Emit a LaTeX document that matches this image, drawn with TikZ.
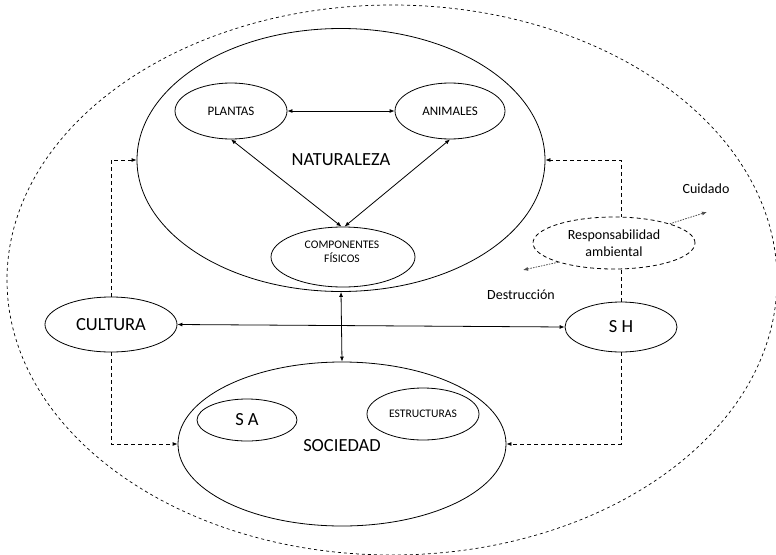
\documentclass[tikz,border=0pt]{standalone}
\usepackage{fontspec}
\setmainfont{Carlito}
\usetikzlibrary{shapes.geometric,arrows.meta}
\tikzset{
  ell/.style={ellipse, draw, line width=0.8pt, inner sep=0pt, fill=white},
  conn/.style={line width=0.8pt, {Latex[length=5pt,width=4pt]}-{Latex[length=5pt,width=4pt]}},
  dconn/.style={line width=0.8pt, dash pattern=on 4pt off 3pt, -{Latex[length=5pt,width=4pt]}},
  dotconn/.style={line width=0.8pt, dash pattern=on 1.5pt off 1.2pt, -{Latex[length=5pt,width=4pt]}, black!70},
  big/.style={font=\fontsize{18.5}{21}\selectfont},
  mid/.style={font=\fontsize{14}{17}\selectfont},
  small/.style={font=\fontsize{13}{15}\selectfont, align=center},
  tiny/.style={font=\fontsize{11.6}{14}\selectfont, align=center},
}
\begin{document}
\begin{tikzpicture}[x=1pt,y=-1pt]
\useasboundingbox (0,0) rectangle (776,554);
\node[ellipse, draw, line width=0.7pt, dash pattern=on 3pt off 3pt, minimum width=770pt, minimum height=550pt, inner sep=0pt] (outer) at (392,280) {};
\node[ell, minimum width=408pt, minimum height=263pt] (nat) at (341,160) {};
\node[big] (natlabel) at (341,160) {NATURALEZA};
\node[ell, small, minimum width=112pt, minimum height=56pt] (pl) at (231,111) {PLANTAS};
\node[ell, small, minimum width=110pt, minimum height=56pt] (an) at (450,111) {ANIMALES};
\node[ell, minimum width=144pt, minimum height=60pt] (comp) at (343,257) {};
\node[tiny] (complabel) at (342,252) {COMPONENTES\\FÍSICOS};
\node[ell, minimum width=328pt, minimum height=164pt] (soc) at (342,444) {};
\node[big] (soclabel) at (342,446) {SOCIEDAD};
\node[ell, big, minimum width=100pt, minimum height=42pt] (sa) at (247,420) {S A};
\node[ell, tiny, minimum width=112pt, minimum height=52pt] (est) at (423,414) {ESTRUCTURAS};
\node[ell, big, minimum width=132pt, minimum height=55pt] (cult) at (111,324.5) {CULTURA};
\node[ell, big, minimum width=112pt, minimum height=50pt] (sh) at (621,327) {S H};

\draw[conn] (pl.east) -- (an.west);
\draw[conn] (pl.south) -- ([xshift=-1.5pt]comp.north);
\draw[conn] (an.south) -- ([xshift=1.5pt]comp.north);
\draw[conn] (nat.south) -- (soc.north);
\draw[conn] (cult.east) -- (sh.west);

\draw[dconn] (cult.north) |- (nat.west);
\draw[dconn] (cult.south) |- (soc.west);
\draw[dconn] (sh.north) |- (nat.east);
\draw[dconn] (sh.south) |- (soc.east);

\node[ellipse, draw, fill=white, line width=0.8pt, dash pattern=on 4pt off 3pt, inner sep=0pt, minimum width=162pt, minimum height=52pt, mid, align=center] (resp) at (614,243) {Responsabilidad\\ambiental};
\coordinate (cuidtip) at (707,212);
\coordinate (destip) at (523,270);
\draw[dotconn] (resp.19) -- (cuidtip);
\draw[dotconn] (resp.199) -- (destip);
\node[mid] (cuid) at (706,189) {Cuidado};
\node[mid] (destr) at (521,295) {Destrucción};
\end{tikzpicture}
\end{document}
